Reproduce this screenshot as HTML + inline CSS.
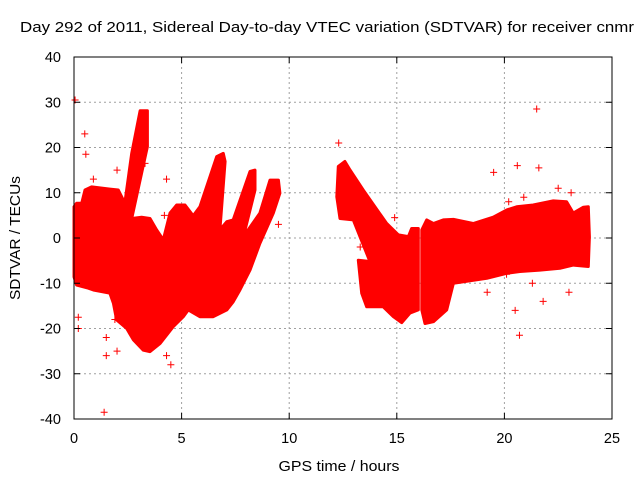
<!DOCTYPE html>
<html><head><meta charset="utf-8"><style>
html,body{margin:0;padding:0;background:#fff;}
svg{display:block;font-family:"Liberation Sans",sans-serif;}
</style></head><body>
<svg id="chart" width="640" height="480" viewBox="0 0 640 480" xmlns="http://www.w3.org/2000/svg">
<text x="20" y="32" font-size="14.5" fill="#000" textLength="614" lengthAdjust="spacingAndGlyphs">Day 292 of 2011, Sidereal Day-to-day VTEC variation (SDTVAR) for receiver cnmr</text>
<text x="339" y="471" font-size="14.5" text-anchor="middle" textLength="121" lengthAdjust="spacingAndGlyphs">GPS time / hours</text>
<text transform="translate(20,238) rotate(-90)" font-size="14.5" text-anchor="middle" textLength="124" lengthAdjust="spacingAndGlyphs">SDTVAR / TECUs</text>
<g id="grid"></g>
<g id="marks"></g>
<g id="axes"></g>
</svg>
<script>
const xTicks=[0,5,10,15,20,25];
const yTicks=[-40,-30,-20,-10,0,10,20,30,40];
// envelope of dense band, segment 1 (time h, value TECU)
const seg1T=[0,0.12,0.36,0.51,0.82,1.67,2.06,2.29,2.37,2.68,3.07,3.41,3.41,2.68,3.14,3.53,3.84,4.15,4.46,4.77,5.16,5.54,5.85,6.63,6.94,7.02,6.78,7.10,7.40,8.18,8.41,8.41,7.87,8.64,9.11,9.50,9.57,9.26,8.64,8.18,7.71,7.40,7.10,6.47,5.85,5.31,5.08,4.61,4.00,3.53,3.22,2.76,2.45,1.98,1.83,1.67,0.90,0.67,0.12,0];
const seg1V=[6.9,7.7,7.7,10.6,11.3,10.8,10.6,8.4,8.0,18.7,28.1,28.1,20.2,4.3,4.6,4.3,1.8,-0.4,5.5,7.3,7.3,4.9,6.9,18.0,18.7,16.9,1.8,3.6,4.0,14.7,15.0,10.6,0.3,5.5,12.8,12.8,9.9,5.5,-1.2,-7.1,-11.5,-14.1,-15.9,-17.4,-17.4,-15.9,-17.4,-19.6,-23.3,-25.1,-24.8,-22.5,-20.0,-18.1,-14.4,-12.2,-11.5,-11.1,-10.4,-8.6];
const seg2T=[12.28,12.59,12.83,13.44,14.53,15.07,15.54,15.69,16.00,16.00,15.61,15.23,14.84,14.37,13.60,13.37,13.21,13.75,12.98,12.36,12.21];
const seg2V=[15.8,16.9,15.0,10.6,3.2,0.7,0.3,2.1,2.1,-15.9,-16.6,-18.7,-17.4,-15.2,-15.2,-12.2,-4.9,-5.2,4.0,4.3,9.1];
const seg3T=[16.16,16.39,16.70,17.16,17.63,18.55,19.48,20.11,20.57,21.34,22.27,22.89,23.20,23.67,23.90,23.95,23.90,23.20,22.58,21.65,20.72,20.11,19.18,17.63,17.32,16.70,16.31,16.16];
const seg3V=[1.8,4.0,3.2,4.0,4.1,3.2,4.6,6.2,6.9,7.3,8.2,8.0,5.5,6.8,6.9,0.3,-6.3,-6.0,-6.7,-7.1,-7.4,-7.8,-8.9,-10.0,-15.9,-18.5,-18.9,-15.9];
const outT=[0.05,0.5,0.55,0.9,1.5,1.5,1.4,2.0,2.0,0.2,0.2,3.3,4.3,4.5,4.3,9.5,12.3,14.9,19.5,20.5,20.6,21.5,21.6,20.7,22.5,23.1,19.2,20.1,21.3,21.8,23.0,13.3,15.0,20.2,20.9,1.9,4.2];
const outV=[30.5,23,18.5,13,-22,-26,-38.5,-25,15,-17.5,-20,16.5,13,-28,-26,3,21,4.5,14.5,-16,16,28.5,15.5,-21.5,11,10,-12,-8,-10,-14,-12,-2,-4,8,9,-18,5];
const X0=74,X1=612,Y0=419,Y1=57;
const sx=t=>X0+(t-0)/(25-0)*(X1-X0);
const sy=v=>Y0-(v+40)/80*(Y0-Y1);
const NS="http://www.w3.org/2000/svg";
function mk(tag,parent,attrs){const e=document.createElementNS(NS,tag);for(const k in attrs)e.setAttribute(k,attrs[k]);parent.appendChild(e);return e;}
const grid=document.getElementById('grid'),marks=document.getElementById('marks'),axes=document.getElementById('axes');
xTicks.forEach(t=>{
 if(t>0&&t<25){const l=mk('line',grid,{x1:sx(t),x2:sx(t),y1:Y1,y2:Y0,stroke:'#a0a0a0','stroke-dasharray':'2,3'});
 
 }
 const tx=mk('text',axes,{x:sx(t),y:443,'font-size':14.5,'text-anchor':'middle'});tx.textContent=t;
 
 
 mk('line',axes,{x1:sx(t),x2:sx(t),y1:Y0,y2:Y0-6,stroke:'#000'});
 mk('line',axes,{x1:sx(t),x2:sx(t),y1:Y1,y2:Y1+6,stroke:'#000'});
});
yTicks.forEach(v=>{
 if(v>-40&&v<40){const l=mk('line',grid,{x1:X0,x2:X1,y1:sy(v),y2:sy(v),stroke:'#a0a0a0','stroke-dasharray':'2,3'});
 
 }
 const tx=mk('text',axes,{x:61,y:sy(v)+5,'font-size':14.5,'text-anchor':'end'});tx.textContent=v;
 
 
 mk('line',axes,{x1:X0,x2:X0+6,y1:sy(v),y2:sy(v),stroke:'#000'});
 mk('line',axes,{x1:X1,x2:X1-6,y1:sy(v),y2:sy(v),stroke:'#000'});
});
const fr=mk('rect',axes,{x:X0,y:Y1,width:X1-X0,height:Y0-Y1,fill:'none',stroke:'#000'});


[[seg1T,seg1V,'band-segment-1'],[seg2T,seg2V,'band-segment-2'],[seg3T,seg3V,'band-segment-3']].forEach(s=>{
 const pts=s[0].map((t,i)=>sx(t).toFixed(1)+','+sy(s[1][i]).toFixed(1)).join(' ');
 const p=mk('polygon',marks,{points:pts,fill:'#ff0000',stroke:'#ff0000','stroke-width':3,'stroke-linejoin':'round'});
 
 
});
outT.forEach((t,i)=>{
 const x=sx(t),y=sy(outV[i]);
 const p=mk('path',marks,{d:`M${x-3.5},${y}H${x+3.5}M${x},${y-3.5}V${y+3.5}`,stroke:'#ff0000','stroke-width':1});
 
 
});
</script>
</body></html>
